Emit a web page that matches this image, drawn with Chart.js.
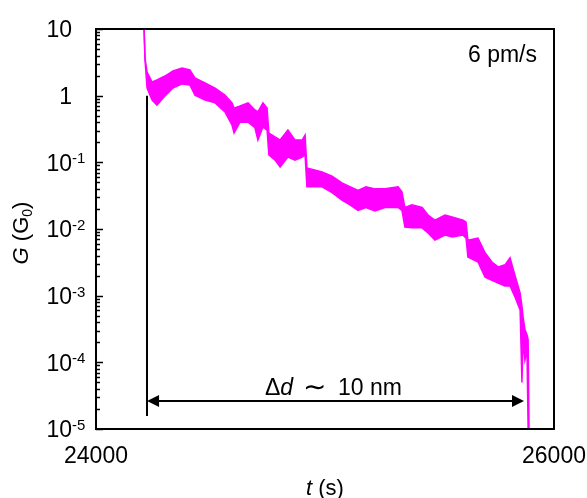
<!DOCTYPE html>
<html>
<head>
<meta charset="utf-8">
<script src="https://cdn.jsdelivr.net/npm/chart.js@4"></script>
<style>
body{margin:0;background:#fff;}
</style>
</head>
<body>
<canvas id="myChart" width="587" height="498"></canvas>
<script>
"use strict";

// time (s) and upper / lower edge of the noisy conductance trace (G0)
const timeSec = [24210,24214,24223,24245,24266,24301,24336,24376,24410,24432,24476,24520,24563,24594,24603,24629,24664,24694,24707,24729,24747,24755,24782,24804,24838,24869,24900,24913,24921,24987,25031,25074,25109,25144,25179,25218,25262,25319,25336,25349,25380,25424,25450,25480,25524,25555,25603,25616,25624,25668,25699,25729,25756,25786,25808,25830,25852,25860,25865,25873,25882,25887,25891];
const gUpper = [10,3.67,2.26,1.60,1.72,1.97,2.34,2.60,2.43,1.84,1.55,1.30,1.02,0.78,0.65,0.70,0.78,0.61,0.57,0.78,0.65,0.275,0.24,0.216,0.305,0.216,0.216,0.257,0.082,0.072,0.062,0.049,0.043,0.038,0.043,0.040,0.040,0.043,0.036,0.021,0.023,0.021,0.0162,0.0136,0.0162,0.0151,0.0136,0.0127,0.0068,0.0073,0.0044,0.0032,0.0027,0.0029,0.0037,0.002,0.0011,0.0007,0.00048,0.00031,0.00026,0.00022,1e-5];
const gLower = [10,3.43,1.30,0.86,0.72,0.99,1.30,1.50,1.45,1.02,0.86,0.78,0.57,0.36,0.275,0.40,0.40,0.33,0.216,0.34,0.305,0.129,0.108,0.085,0.12,0.108,0.12,0.129,0.043,0.043,0.035,0.027,0.023,0.019,0.021,0.0186,0.021,0.021,0.019,0.0107,0.0104,0.0104,0.0087,0.0068,0.0081,0.0076,0.0081,0.0073,0.0038,0.0032,0.0019,0.0017,0.00155,0.0014,0.0014,0.00095,0.00061,0.00005,0.00022,0.000108,0.00015,1e-5,1e-5];

const xTicks = [24000, 26000];
const yTicks = [1e-5, 1e-4, 1e-3, 1e-2, 1e-1, 1, 10];

// annotation: start marker and the distance arrow
const markT = 24223, markTop = 1, markBottom = 1.57e-5;
const arrowG = 2.65e-5, arrowFrom = 24223, arrowTo = 25869;
const rateLabel = "6 pm/s";

const magenta = "#ff00ff";
const fontName = "'Liberation Sans', Arial, sans-serif";

function pts(ys) {
    let out = [];
    for (let i = 0; i < timeSec.length; i++) out.push({x: timeSec[i], y: ys[i]});
    return out;
}

function drawParts(ctx, parts, x, y) {
    // parts: [text, font, dy]
    for (let p of parts) {
        ctx.font = p[1];
        ctx.fillText(p[0], x, y + (p[2] || 0));
        x += ctx.measureText(p[0]).width;
    }
}

const decor = {
    id: "decor",
    afterDatasetsDraw(chart) {
        let ctx = chart.ctx, a = chart.chartArea;
        let xs = chart.scales.x, ys = chart.scales.y;
        ctx.save();
        ctx.fillStyle = "#000";
        ctx.strokeStyle = "#000";

        // frame
        ctx.lineWidth = 2;
        ctx.strokeRect(a.left, a.top, a.right - a.left, a.bottom - a.top);

        // inward ticks on the left axis
        ctx.lineWidth = 1.5;
        for (let k = 0; k < yTicks.length; k++) {
            let base = yTicks[k];
            for (let m = 1; m < 10; m++) {
                if (k == yTicks.length - 1 && m > 1) break;
                let py = Math.round(ys.getPixelForValue(base * m)) + 0.5;
                let len = (m == 1) ? 7 : 4;
                ctx.beginPath();
                ctx.moveTo(a.left, py);
                ctx.lineTo(a.left + len, py);
                ctx.stroke();
            }
        }

        // y tick labels
        ctx.textBaseline = "middle";
        for (let v of yTicks) {
            let e = Math.round(Math.log10(v));
            let py = ys.getPixelForValue(v) + 2;
            let base = (e == 0) ? "1" : "10";
            ctx.font = "23px " + fontName;
            ctx.textAlign = "right";
            ctx.fillText(base, 72, py);
            if (e < 0) {
                ctx.textAlign = "left";
                ctx.font = "15px " + fontName;
                ctx.fillText(String(e), 72, py - 5);
            }
        }

        // x tick labels
        ctx.textAlign = "center";
        ctx.font = "23px " + fontName;
        for (let v of xTicks) {
            ctx.fillText(String(v), xs.getPixelForValue(v), 457);
        }

        // axis titles
        ctx.textAlign = "left";
        ctx.textBaseline = "alphabetic";
        let tParts = [["t", "italic 22px " + fontName], [" (s)", "22px " + fontName]];
        ctx.font = tParts[0][1];
        let w = ctx.measureText("t").width;
        ctx.font = tParts[1][1];
        w += ctx.measureText(" (s)").width;
        drawParts(ctx, tParts, (a.left + a.right) / 2 - w / 2, 495);

        ctx.save();
        ctx.translate(28, 233);
        ctx.rotate(-Math.PI / 2);
        let gParts = [["G", "italic 22px " + fontName], [" (G", "22px " + fontName], ["0", "14px " + fontName, 4], [")", "22px " + fontName]];
        let gw = 0;
        for (let p of gParts) { ctx.font = p[1]; gw += ctx.measureText(p[0]).width; }
        drawParts(ctx, gParts, -gw / 2, 0);
        ctx.restore();

        // rate label
        ctx.textAlign = "right";
        ctx.font = "23px " + fontName;
        ctx.fillText(rateLabel, 537, 62);

        // start marker
        let mx = Math.round(xs.getPixelForValue(markT));
        ctx.lineWidth = 2;
        ctx.beginPath();
        ctx.moveTo(mx, ys.getPixelForValue(markTop));
        ctx.lineTo(mx, ys.getPixelForValue(markBottom));
        ctx.stroke();

        // distance arrow
        let ay = Math.round(ys.getPixelForValue(arrowG));
        let x0 = xs.getPixelForValue(arrowFrom), x1 = xs.getPixelForValue(arrowTo);
        ctx.beginPath();
        ctx.moveTo(x0 + 8, ay);
        ctx.lineTo(x1 - 8, ay);
        ctx.stroke();
        ctx.beginPath();
        ctx.moveTo(x0, ay); ctx.lineTo(x0 + 12, ay - 6); ctx.lineTo(x0 + 12, ay + 6); ctx.closePath();
        ctx.fill();
        ctx.beginPath();
        ctx.moveTo(x1, ay); ctx.lineTo(x1 - 12, ay - 6); ctx.lineTo(x1 - 12, ay + 6); ctx.closePath();
        ctx.fill();

        ctx.textAlign = "left";
        drawParts(ctx, [["\u0394", "23px " + fontName], ["d", "italic 23px " + fontName]], 265, 395);
        ctx.font = "28px 'DejaVu Sans', " + fontName;
        ctx.fillText("\u223C", 303, 396);
        ctx.font = "23px " + fontName;
        ctx.fillText("10 nm", 338, 395);

        ctx.restore();
    }
};

let myChart = new Chart(document.getElementById("myChart"), {
    type: "line",
    data: {
        datasets: [
            {data: pts(gUpper), borderColor: magenta, borderWidth: 1.5, pointRadius: 0, fill: false},
            {data: pts(gLower), borderColor: magenta, borderWidth: 1.5, pointRadius: 0, fill: "-1", backgroundColor: magenta}
        ]
    },
    options: {
        responsive: false,
        animation: false,
        devicePixelRatio: 1,
        layout: {padding: {left: 96, right: 33, top: 29, bottom: 69}},
        plugins: {legend: {display: false}, tooltip: {enabled: false}},
        scales: {
            x: {type: "linear", min: 24000, max: 26000, display: false},
            y: {type: "logarithmic", min: 1e-5, max: 10, display: false}
        }
    },
    plugins: [decor]
});
</script>
</body>
</html>
